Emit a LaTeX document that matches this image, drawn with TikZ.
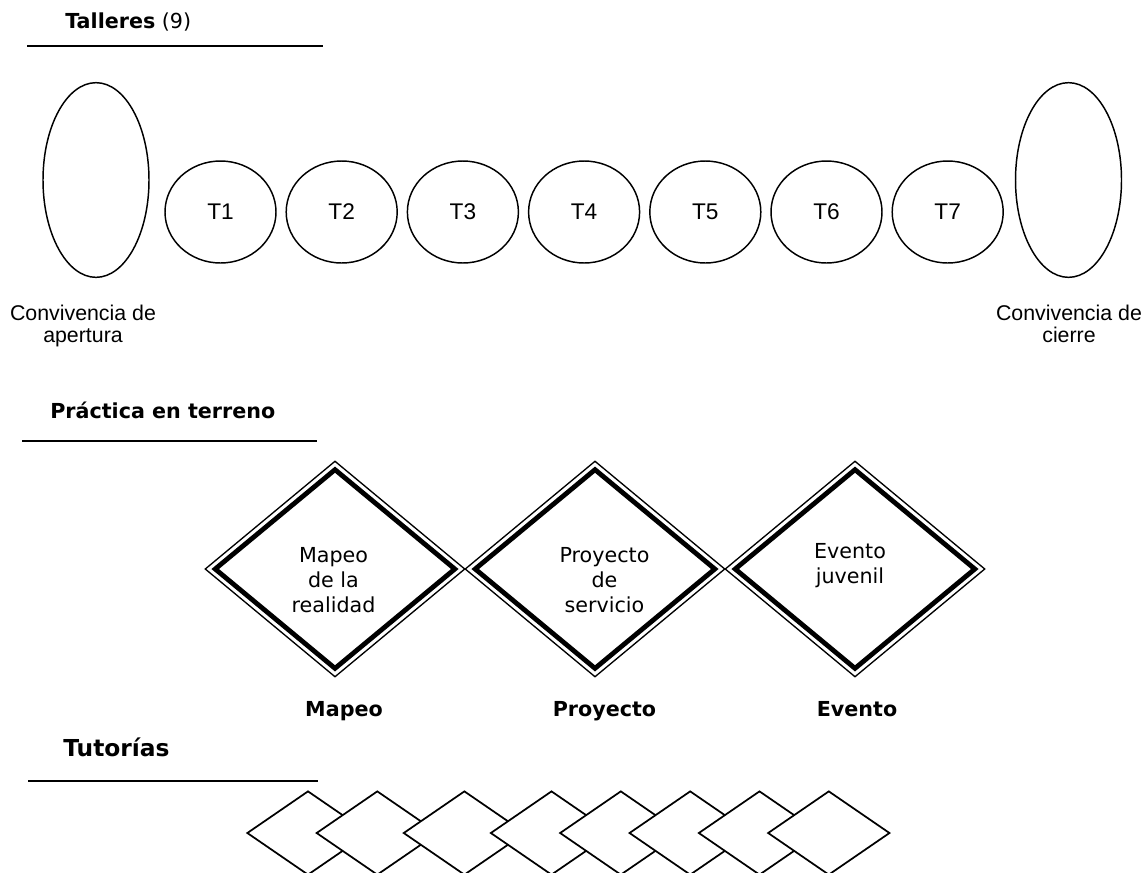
\documentclass[tikz,border=0pt]{standalone}
\usepackage{fontspec}
\setmainfont{Liberation Sans}
\newfontfamily\verd{DejaVu Sans}
\usepackage{tikz}
\usetikzlibrary{shapes.geometric}

\begin{document}
\begin{tikzpicture}[x=0.75pt,y=0.75pt,yscale=-1,xscale=1,
  titulo/.style={anchor=base west, inner sep=0pt, font=\verd\fontsize{15.5}{18}\selectfont},
  raya/.style={line width=1.5pt},
  convivencia/.style={draw, ellipse, line width=1.1pt, inner sep=0pt, minimum width=79.5pt, minimum height=146pt},
  taller/.style={draw, ellipse, line width=1.1pt, inner sep=0pt, minimum width=83.25pt, minimum height=76.5pt, font=\fontsize{17}{19}\selectfont},
  leyenda/.style={anchor=north, align=center, inner sep=0pt, font=\fontsize{16}{16.6}\selectfont},
  practicafuera/.style={draw, diamond, line width=1pt, inner sep=0pt, minimum width=195pt, minimum height=162pt},
  practicadentro/.style={draw, diamond, line width=3.6pt, miter limit=20, inner sep=0pt, minimum width=181.2pt, minimum height=150.5pt},
  textopractica/.style={align=center, inner sep=0pt, font=\verd\fontsize{15.5}{18.75}\selectfont},
  nombre/.style={anchor=base, inner sep=0pt, font=\verd\bfseries\fontsize{15.5}{18}\selectfont},
  tutoria/.style={draw, diamond, fill=white, line width=1.3pt, inner sep=0pt, minimum width=91.5pt, minimum height=63pt}
]
%set diagram size
\path[use as bounding box] (0,0) rectangle (1142,872);

% Text Node
\node (talleres) [titulo] at (65,28) {\textbf{Talleres} (9)};
\draw [raya] (27,46) -- (323,46);

%Shape: Ellipse
\node (apertura) [convivencia] at (96,180) {};
\node (cierre) [convivencia] at (1068.5,180) {};

%Shape: Circle
\node (t1) [taller] at (220.5,212) {T1};
\node (t2) [taller] at (341.7,212) {T2};
\node (t3) [taller] at (462.9,212) {T3};
\node (t4) [taller] at (584.1,212) {T4};
\node (t5) [taller] at (705.3,212) {T5};
\node (t6) [taller] at (826.5,212) {T6};
\node (t7) [taller] at (947.7,212) {T7};

% Text Node
\node (txtapertura) [leyenda] at (83,305) {Convivencia de\\apertura};
\node (txtcierre) [leyenda] at (1069,305) {Convivencia de\\cierre};

% Text Node
\node (practica) [titulo] at (50,418) {\textbf{Práctica en terreno}};
\draw [raya] (22,441) -- (317,441);

%Shape: Diamond
\node (mapeofuera) [practicafuera] at (335,569) {};
\node (mapeodentro) [practicadentro] at (335,569) {};
\node (proyectofuera) [practicafuera] at (595,569) {};
\node (proyectodentro) [practicadentro] at (595,569) {};
\node (eventofuera) [practicafuera] at (855,569) {};
\node (eventodentro) [practicadentro] at (855,569) {};

% Text Node
\node (txtmapeo) [textopractica] at (333.5,580.5) {Mapeo\\de la\\realidad};
\node (txtproyecto) [textopractica] at (604.5,580.5) {Proyecto\\de\\servicio};
\node (txtevento) [textopractica] at (850,565.5) {Evento\\juvenil};

% Text Node
\node (mapeo) [nombre] at (344,716) {Mapeo};
\node (proyecto) [nombre] at (604.5,716) {Proyecto};
\node (evento) [nombre] at (857,716) {Evento};

% Text Node
\node (tutorias) [titulo, font=\verd\fontsize{17.5}{20}\selectfont] at (63,756) {\textbf{Tutorías}};
\draw [raya] (28,781) -- (318,781);

%Shape: Diamond
\node (tut1) [tutoria] at (308,833) {};
\node (tut2) [tutoria] at (377.3,833) {};
\node (tut3) [tutoria] at (464.4,833) {};
\node (tut4) [tutoria] at (551.5,833) {};
\node (tut5) [tutoria] at (620.8,833) {};
\node (tut6) [tutoria] at (690.2,833) {};
\node (tut7) [tutoria] at (759.5,833) {};
\node (tut8) [tutoria] at (828.8,833) {};

\end{tikzpicture}
\end{document}
